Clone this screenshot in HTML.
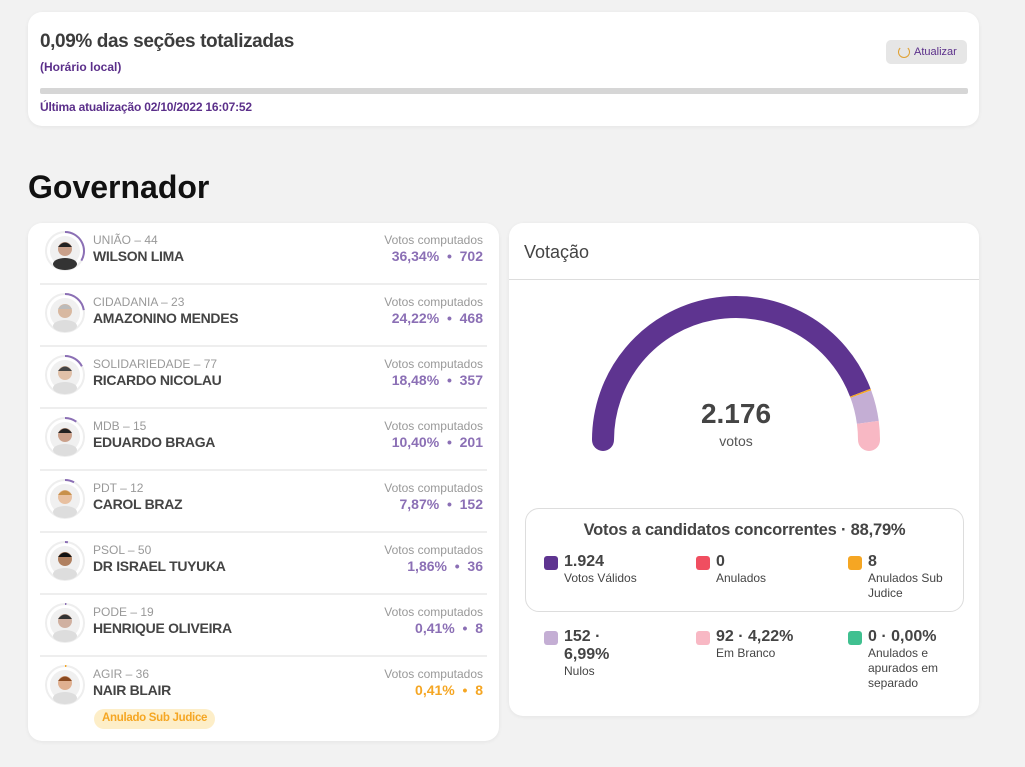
<!DOCTYPE html>
<html><head><meta charset="utf-8"><style>
*{box-sizing:border-box;margin:0;padding:0}
body{width:1025px;height:767px;background:#f2f2f2;font-family:"Liberation Sans",sans-serif;position:relative;overflow:hidden;color:#444}
.card{position:absolute;background:#fff;border-radius:14px;box-shadow:0 1px 4px rgba(0,0,0,.06)}
.abs{position:absolute;white-space:nowrap}
.row{position:absolute;left:0;width:471px;height:62px}
.sep{position:absolute;left:12px;right:12px;bottom:0;height:2px;background:#eee}
.party{left:65px;top:10px;font-size:12px;color:#999}
.name{left:65px;top:25px;font-size:14px;font-weight:bold;color:#444;letter-spacing:-0.3px}
.vc{right:16px;top:10px;font-size:12px;color:#999}
.val{right:16px;top:25px;font-size:14px;font-weight:bold;color:#8b6fb5}
.sq{position:absolute;width:14px;height:14px;border-radius:3px}
.ln{font-size:16px;font-weight:bold;color:#444}
.lb{font-size:12px;color:#444;line-height:15px}
</style></head><body>
<div class="card" style="left:28px;top:12px;width:951px;height:114px">
 <div class="abs" style="left:12px;top:19px;font-size:19px;font-weight:bold;color:#3c3c3c;letter-spacing:-0.4px">0,09% das seções totalizadas</div>
 <div class="abs" style="left:12px;top:48px;font-size:12px;font-weight:bold;color:#5b2f8a">(Horário local)</div>
 <div class="abs" style="left:12px;top:76px;width:928px;height:6px;background:#d6d6d6;border-radius:2px"></div>
 <div class="abs" style="left:12px;top:88px;font-size:12px;font-weight:bold;color:#5b2f8a;letter-spacing:-0.2px">Última atualização 02/10/2022 16:07:52</div>
 <div class="abs" style="left:858px;top:28px;width:81px;height:24px;background:#e6e6e6;border-radius:5px;font-size:11px;color:#5b2f8a;padding:6px 0 0 28px">
  <span style="position:absolute;left:12px;top:6px;width:12px;height:12px;border:1.5px solid #e0a030;border-radius:50%;border-top-color:transparent"></span>Atualizar</div>
</div>
<div class="abs" style="left:28px;top:169px;font-size:32px;font-weight:bold;color:#111">Governador</div>

<div class="card" id="list" style="left:28px;top:223px;width:471px;height:518px"></div>

<div class="card" style="left:509px;top:223px;width:470px;height:493px">
 <div class="abs" style="left:15px;top:19px;font-size:18px;color:#444">Votação</div>
 <div class="abs" style="left:0;top:56px;width:470px;height:1px;background:#ddd"></div>
 <svg id="gauge" class="abs" style="left:0;top:0" width="470" height="260"></svg>
 <div class="abs" style="left:0;width:454px;text-align:center;top:175px;font-size:28px;font-weight:bold;color:#444">2.176</div>
 <div class="abs" style="left:0;width:454px;text-align:center;top:210px;font-size:14px;color:#555">votos</div>
 <div class="abs" style="left:16px;top:285px;width:439px;height:104px;border:1px solid #ddd;border-radius:14px">
  <div class="abs" style="left:0;width:437px;text-align:center;top:12px;font-size:16.5px;font-weight:bold;color:#444;letter-spacing:-0.2px">Votos a candidatos concorrentes · 88,79%</div>
 </div>
 <div id="legend"></div>
</div>

<script>
const names=["WILSON LIMA","AMAZONINO MENDES","RICARDO NICOLAU","EDUARDO BRAGA","CAROL BRAZ","DR ISRAEL TUYUKA","HENRIQUE OLIVEIRA","NAIR BLAIR"];
const parties=["UNIÃO – 44","CIDADANIA – 23","SOLIDARIEDADE – 77","MDB – 15","PDT – 12","PSOL – 50","PODE – 19","AGIR – 36"];
const pcts=[36.34,24.22,18.48,10.40,7.87,1.86,0.41,0.41];
const votes=[702,468,357,201,152,36,8,8];
const subJudice=[false,false,false,false,false,false,false,true];

const list=document.getElementById('list');
names.forEach((n,i)=>{
 const r=document.createElement('div');r.className='row';r.style.top=(i*62)+'px';
 
 
 const col=subJudice[i]?'#f5a623':'#8b6fb5';
 const a=pcts[i]/100*2*Math.PI*0.9+0.05;const R=19;
 const ex=37+R*Math.sin(a),ey=28-R*Math.cos(a);
 const large=a>Math.PI?1:0;
 const skin=['#c9a08a','#d8b8a0','#e0c0a8','#caa08a','#e8c0a0','#b08060','#d0b0a0','#e0b090'][i];
 const hair=['#222','#bbb','#444','#222','#c8904a','#111','#333','#8a4a20'][i];
 r.innerHTML=`<svg class="abs" style="left:0;top:0" width="74" height="62">
 <circle cx="37" cy="28" r="19" fill="#fff" stroke="#eee" stroke-width="2"/>
 <path d="M37 9 A19 19 0 ${large} 1 ${ex.toFixed(2)} ${ey.toFixed(2)}" fill="none" stroke="${col}" stroke-width="2"/>
 <circle cx="37" cy="28" r="15" fill="#f0f0f0"/>
 <ellipse cx="37" cy="41" rx="12" ry="6" fill="${i==0?'#333':'#ddd'}"/>
 <circle cx="37" cy="26" r="7" fill="${skin}"/><path d="M30 24 Q37 15 44 24" fill="${hair}"/></svg>
 <div class="abs party">${parties[i]}</div><div class="abs name">${n}</div>
 <div class="abs vc">Votos computados</div>
 <div class="abs val" style="color:${col}">${pcts[i].toFixed(2).replace('.',',')}%&nbsp; •&nbsp; ${votes[i]}</div>
 ${i<7?'<div class="sep"></div>':''}
 ${subJudice[i]?'<div class="abs" style="left:66px;top:52px;height:20px;padding:3px 8px;background:#fdeec8;color:#f5a623;border-radius:10px;font-size:11.5px;font-weight:bold;letter-spacing:-0.3px">Anulado Sub Judice</div>':''}`;
 list.appendChild(r);
});

// gauge
const segLabels=["Votos Válidos","Anulados","Anulados Sub Judice","Nulos","Em Branco","Anulados e apurados em separado"];
const segValues=[1924,0,8,152,92,0];
const segColors=["#5e3490","#f04e60","#f5a623","#c4aed4","#f8b8c4","#40c090"];
const NS='http://www.w3.org/2000/svg';
const g=document.getElementById('gauge');
const cx=227,cy=217,Rr=133,W=22;
const total=segValues.reduce((a,b)=>a+b,0);
const pt=f=>{const t=Math.PI-f*Math.PI;return [cx+Rr*Math.cos(t),cy-Rr*Math.sin(t)];};
let acc=0;const drawn=[];
segValues.forEach((v,i)=>{if(v>0)drawn.push(i)});
[[0,drawn[0]],[1,drawn[drawn.length-1]]].forEach(([f,i])=>{
 const c=document.createElementNS(NS,'circle');const p=pt(f);
 c.setAttribute('cx',p[0]);c.setAttribute('cy',p[1]);c.setAttribute('r',W/2);c.setAttribute('fill',segColors[i]);
 
 
 g.appendChild(c);
});
segValues.forEach((v,i)=>{
 const f0=acc/total;acc+=v;const f1=acc/total;
 if(v<=0)return;
 const p0=pt(f0),p1=pt(f1);
 const path=document.createElementNS(NS,'path');
 path.setAttribute('d',`M${p0[0]} ${p0[1]} A${Rr} ${Rr} 0 0 1 ${p1[0]} ${p1[1]}`);
 path.setAttribute('fill','none');path.setAttribute('stroke',segColors[i]);path.setAttribute('stroke-width',W);
 
 
 g.appendChild(path);
});

// legend
const legNums=["1.924","0","8","152 ·<br>6,99%","92 · 4,22%","0 · 0,00%"];
const legX=[35,187,339,35,187,339];
const legY=[330,330,330,405,405,405];
const leg=document.getElementById('legend');
segLabels.forEach((l,i)=>{
 const d=document.createElement('div');d.className='abs';
 
 
 d.style.left=legX[i]+'px';d.style.top=legY[i]+'px';d.style.whiteSpace='normal';d.style.width='100px';
 d.innerHTML=`<div class="sq" style="left:0;top:3px;background:${segColors[i]}"></div>
 <div style="margin-left:20px"><div class="ln">${legNums[i]}</div><div class="lb">${l.replace('Sub Judice','Sub<br>Judice').replace('apurados em separado','<br>apurados em<br>separado')}</div></div>`;
 leg.appendChild(d);
});
</script>
</body></html>
